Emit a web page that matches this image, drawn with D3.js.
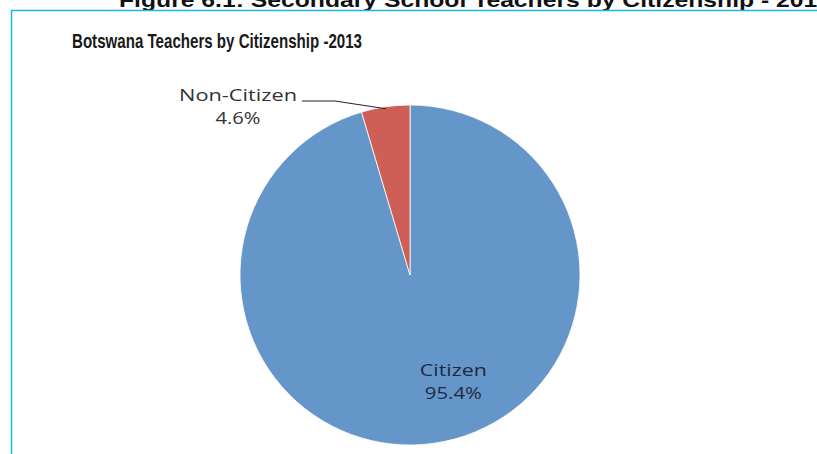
<!DOCTYPE html>
<html>
<head>
<meta charset="utf-8">
<script src="https://cdn.jsdelivr.net/npm/d3@7/dist/d3.min.js"></script>
<style>
  html, body { margin: 0; padding: 0; background: #fff; }
  svg { display: block; }
</style>
</head>
<body>
<script>
// Teachers by citizenship, 2013
const categories = ["Citizen", "Non-Citizen"];
const shares = [95.4, 4.6];
const valueLabels = ["95.4%", "4.6%"];
const colors = ["#6596CA", "#CD5F57"];

const W = 817, H = 454;
const svg = d3.select("body").append("svg")
  .attr("width", W).attr("height", H);

// figure caption, running past the top and right edges of the page
svg.append("text")
  .attr("x", 119).attr("y", 7)
  .attr("font-family", "Liberation Sans, Arial, sans-serif")
  .attr("font-weight", "bold")
  .attr("font-size", 21)
  .attr("fill", "#111")
  .attr("textLength", 712)
  .attr("lengthAdjust", "spacingAndGlyphs")
  .text("Figure 6.1: Secondary School Teachers by Citizenship - 2013");

// chart frame
svg.append("rect")
  .attr("x", 11.5).attr("y", 10.5)
  .attr("width", W).attr("height", H)
  .attr("fill", "#fff")
  .attr("stroke", "#19B6EE")
  .attr("stroke-width", 1.5);

// chart title
svg.append("text")
  .attr("x", 72).attr("y", 48)
  .attr("font-family", "Liberation Sans, Arial, sans-serif")
  .attr("font-weight", "bold")
  .attr("font-size", 21)
  .attr("fill", "#1a1a1a")
  .attr("textLength", 290)
  .attr("lengthAdjust", "spacingAndGlyphs")
  .text("Botswana Teachers by Citizenship -2013");

const cx = 410, cy = 275, r = 170;
const data = categories.map((c, i) => ({ name: c, value: shares[i], label: valueLabels[i], color: colors[i] }));

const pie = d3.pie().sort(null).value(d => d.value);
const arc = d3.arc().innerRadius(0).outerRadius(r);
const arcs = pie(data);

const g = svg.append("g").attr("transform", `translate(${cx},${cy})`);
g.selectAll("path.slice")
  .data(arcs)
  .enter().append("path")
  .attr("class", "slice")
  .attr("d", arc)
  .attr("fill", d => d.data.color)
  .attr("stroke", "#fff")
  .attr("stroke-width", 0.8);

const labelFont = "'Open Sans', 'DejaVu Sans', sans-serif";

function addLabel(x, y, name, value, nameLen, valueLen, fill) {
  const t = g.append("text")
    .attr("text-anchor", "middle")
    .attr("font-family", labelFont)
    .attr("font-size", 17)
    .attr("fill", fill);
  t.append("tspan").attr("x", x).attr("y", y)
    .attr("textLength", nameLen).attr("lengthAdjust", "spacingAndGlyphs").text(name);
  t.append("tspan").attr("x", x).attr("y", y + 23)
    .attr("textLength", valueLen).attr("lengthAdjust", "spacingAndGlyphs").text(value);
}

// Citizen label inside its slice
const citizen = arcs[0];
const cAngle = Math.PI - 0.40;
const cPos = [Math.sin(cAngle) * r * 0.655, -Math.cos(cAngle) * r * 0.655];
addLabel(cPos[0], cPos[1] - 2, citizen.data.name, citizen.data.label, 67, 57, "#1f2a3f");

// Non-Citizen label outside, with a leader line to its slice
const nonc = arcs[1];
const midA = (nonc.startAngle + nonc.endAngle) / 2;
const edge = [Math.sin(midA) * (r - 2), -Math.cos(midA) * (r - 2)];
const lx = -172, ly = -174;
g.append("polyline")
  .attr("points", [[-108, ly], [-75, ly], edge].map(p => p.join(",")).join(" "))
  .attr("fill", "none")
  .attr("stroke", "#222")
  .attr("stroke-width", 1);
addLabel(lx, ly, nonc.data.name, nonc.data.label, 118, 45, "#333");
</script>
</body>
</html>
